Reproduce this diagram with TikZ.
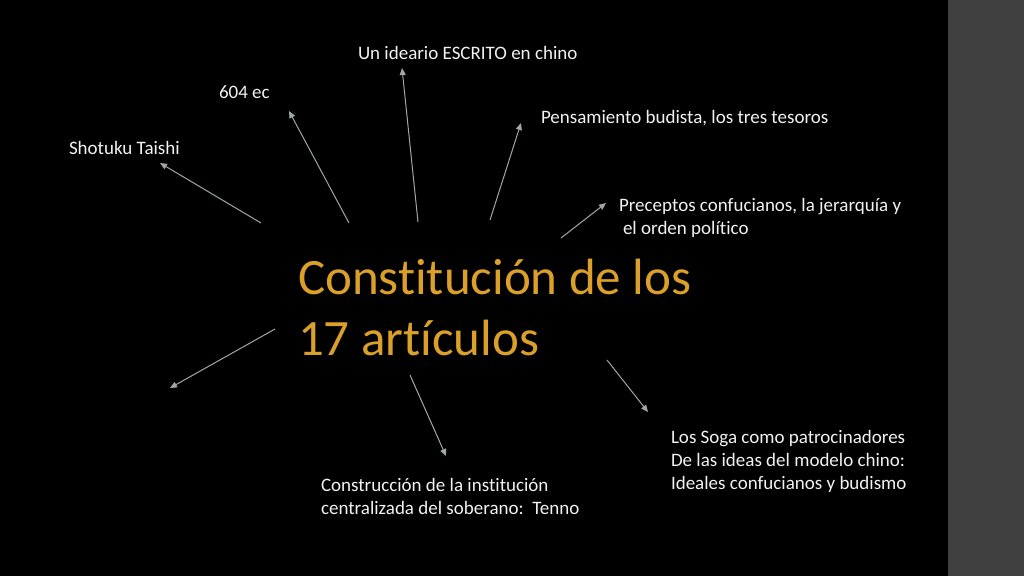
\documentclass[tikz,border=0pt]{standalone}
\usepackage{fontspec}
\setmainfont{Carlito}[RawFeature={-liga}]
\usetikzlibrary{arrows.meta}
\definecolor{bgstrip}{HTML}{404040}
\definecolor{titlegold}{RGB}{218,160,42}
\definecolor{arrowgray}{RGB}{160,168,166}
\definecolor{textwhite}{RGB}{242,242,242}
\tikzset{
  lbl/.style={anchor=base west, inner sep=0pt, outer sep=0pt, text=textwhite, align=left,
    font=\fontsize{19}{23}\selectfont},
  ttl/.style={anchor=base west, inner sep=0pt, outer sep=0pt, text=titlegold, align=left,
    font=\fontsize{51}{61}\selectfont},
  conn/.style={draw=arrowgray, line width=1pt, -{Triangle[length=7pt,width=6pt]}}
}
\begin{document}
\begin{tikzpicture}[x=1pt,y=-1pt]
\useasboundingbox (0,0) rectangle (1024,576);
\fill[black] (0,0) rectangle (1024,576);
\fill[bgstrip] (948,0) rectangle (1024,576);

% multi-line nodes: base anchor is the baseline of the last line
\node[ttl] (title) at (298,355) {Constitución de los\\17 artículos};

\node[lbl] (ideario) at (358,59) {Un ideario ESCRITO en chino};
\node[lbl] (ec) at (219,98) {604 ec};
\node[lbl] (shotuku) at (69,154) {Shotuku Taishi};
\node[lbl] (budista) at (541,123) {Pensamiento budista, los tres tesoros};
\node[lbl] (preceptos) at (619,234) {Preceptos confucianos, la jerarquía y\\\hspace*{4pt}el orden político};
\node[lbl] (soga) at (671,489) {Los Soga como patrocinadores\\De las ideas del modelo chino:\\Ideales confucianos y budismo};
\node[lbl] (construccion) at (321,514) {Construcción de la institución\\centralizada del soberano:\ \ Tenno};

\coordinate (s1) at (261,223); \coordinate (e1) at (160,163);
\coordinate (s2) at (349,223); \coordinate (e2) at (289,111);
\coordinate (s3) at (418,222); \coordinate (e3) at (402,68);
\coordinate (s4) at (490,220); \coordinate (e4) at (521,123);
\coordinate (s5) at (561,238); \coordinate (e5) at (606,203);
\coordinate (s6) at (275,329); \coordinate (e6) at (170,388);
\coordinate (s7) at (410,375); \coordinate (e7) at (446,456);
\coordinate (s8) at (607,360); \coordinate (e8) at (648,412);

\draw[conn] (s1) -- (e1);
\draw[conn] (s2) -- (e2);
\draw[conn] (s3) -- (e3);
\draw[conn] (s4) -- (e4);
\draw[conn] (s5) -- (e5);
\draw[conn] (s6) -- (e6);
\draw[conn] (s7) -- (e7);
\draw[conn] (s8) -- (e8);
\end{tikzpicture}
\end{document}
